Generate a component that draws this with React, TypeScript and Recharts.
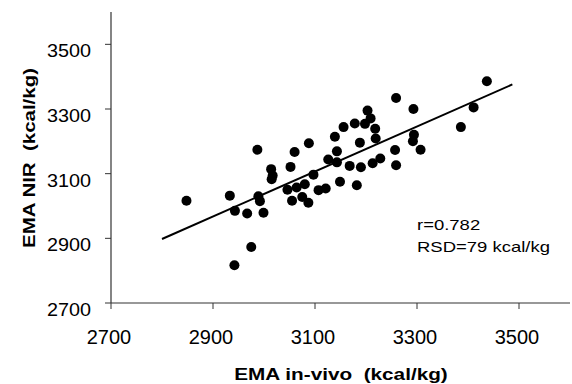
import React from 'react';
import { ScatterChart, Scatter, XAxis, YAxis, Customized } from 'recharts';

// EMA in-vivo (x) vs EMA NIR (y), kcal/kg
const invivo = [
  2848, 2933, 2987, 2943, 2967, 2999, 2975, 2942, 2989, 2992,
  3014, 3017, 3015, 3052, 3060, 3088, 3046, 3064, 3080, 3055,
  3075, 3087, 3097, 3107, 3121, 3126, 3139, 3143, 3143, 3156,
  3149, 3168, 3259, 3293, 3203, 3209, 3178, 3198, 3218, 3219,
  3188, 3294, 3292, 3307, 3257, 3259, 3228, 3213, 3190, 3182,
  3386, 3411, 3437,
];
const nir = [
  3016, 3032, 3174, 2985, 2977, 2979, 2873, 2817, 3030, 3015,
  3114, 3094, 3083, 3121, 3167, 3194, 3050, 3057, 3067, 3016,
  3028, 3010, 3097, 3049, 3054, 3144, 3214, 3169, 3135, 3244,
  3075, 3124, 3334, 3300, 3295, 3271, 3255, 3254, 3239, 3209,
  3196, 3220, 3200, 3174, 3173, 3126, 3147, 3132, 3120, 3064,
  3244, 3305, 3386,
];

// fitted line end points
const fitX = [2800, 3487];
const fitY = [2898, 3376];

const xTicks = [2700, 2900, 3100, 3300, 3500];
const yTicks = [2700, 2900, 3100, 3300, 3500];

const points = invivo.map((x, i) => ({ x, y: nir[i] }));
const fitLine = fitX.map((x, i) => ({ x, y: fitY[i] }));

const FONT = '"Liberation Sans", Arial, sans-serif';

const XTick = ({ x, y, payload }: any) => (
  <text
    x={x - 2}
    y={y + 33}
    textAnchor="middle"
    fontFamily={FONT}
    fontSize={20}
    fill="#000"
  >
    {payload.value}
  </text>
);

const YTick = ({ x, y, payload }: any) => (
  <text
    transform={`translate(${x},${y + 13}) scale(1.1,1)`}
    textAnchor="end"
    fontFamily={FONT}
    fontSize={18}
    fill="#000"
  >
    {payload.value}
  </text>
);

const Dot = (props: any) => <circle cx={props.cx} cy={props.cy} r={5} fill="#000" />;

const Notes = () => (
  <g fontFamily={FONT} fill="#000">
    <text transform="translate(341,380) scale(1.22,1)" textAnchor="middle" fontSize={17} fontWeight="bold">
      {'EMA in-vivo \u00A0(kcal/kg)'}
    </text>
    <text transform="translate(35,158) rotate(-90) scale(1.24,1)" textAnchor="middle" fontSize={16.5} fontWeight="bold">
      {'EMA NIR \u00A0(kcal/kg)'}
    </text>
    <text transform="translate(417,230) scale(1.2,1)" fontSize={15.4}>r=0.782</text>
    <text transform="translate(417,252) scale(1.2,1)" fontSize={15.4}>RSD=79 kcal/kg</text>
  </g>
);

export default function App() {
  return (
    <div style={{ position: 'absolute', left: 0, top: 0, background: '#fff' }}>
      <ScatterChart width={572} height={384} margin={{ top: 12, right: 2, bottom: 0, left: 0 }}>
        <XAxis
          type="number"
          dataKey="x"
          domain={[2700, 3600]}
          ticks={xTicks}
          allowDataOverflow
          height={81}
          tickSize={6}
          tickMargin={2}
          tick={<XTick />}
          axisLine={{ stroke: '#333', strokeWidth: 1.2 }}
          tickLine={{ stroke: '#333' }}
        />
        <YAxis
          type="number"
          dataKey="y"
          domain={[2700, 3600]}
          ticks={yTicks}
          allowDataOverflow
          width={111}
          tickSize={6}
          tickMargin={14}
          tick={<YTick />}
          axisLine={{ stroke: '#333', strokeWidth: 1.2 }}
          tickLine={{ stroke: '#333' }}
        />
        <Scatter
          data={fitLine}
          line={{ stroke: '#000', strokeWidth: 2 }}
          shape={() => <g />}
          isAnimationActive={false}
        />
        <Scatter data={points} shape={<Dot />} isAnimationActive={false} />
        <Customized component={<Notes />} />
      </ScatterChart>
    </div>
  );
}
